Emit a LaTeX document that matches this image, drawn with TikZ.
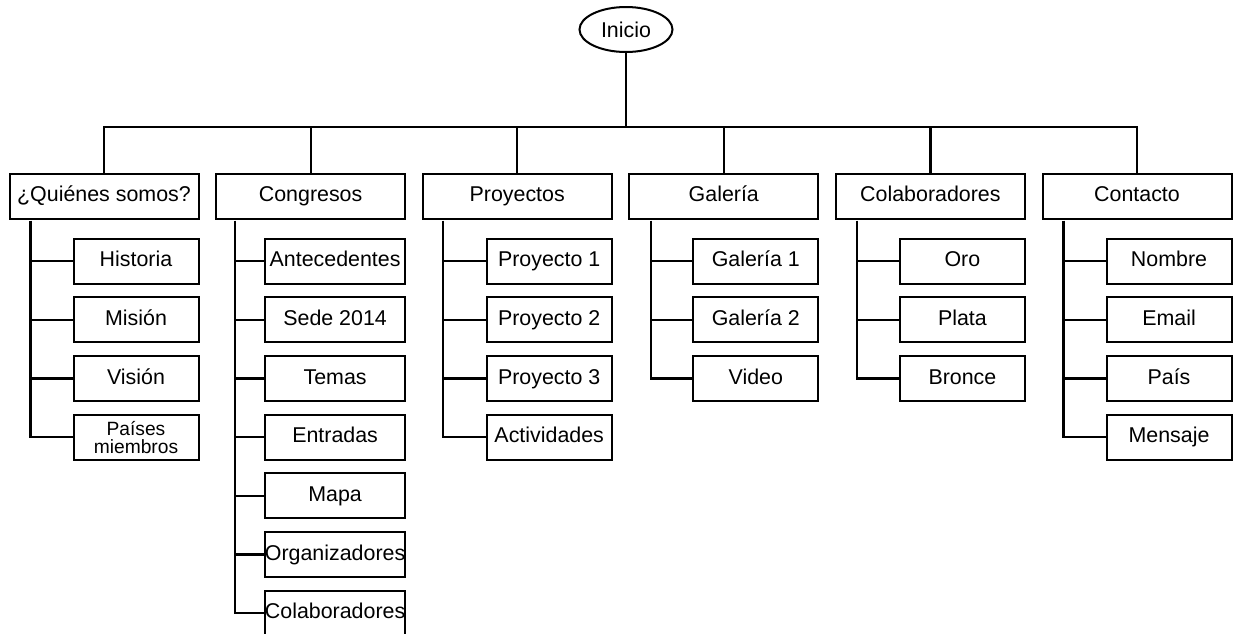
\documentclass[tikz,border=0pt]{standalone}
\usepackage{fontspec}
\setmainfont{Liberation Sans}
\usetikzlibrary{positioning,shapes.geometric}

\begin{document}
\begin{tikzpicture}[
  x=0.5pt, y=-0.5pt,
  node distance=6.85pt and 8.8pt,
  frame/.style={draw, line width=1pt, inner sep=0pt, outer sep=0pt,
                minimum width=94.5pt, minimum height=22.5pt,
                font=\fontsize{10.7}{12}\selectfont},
  sec/.style={frame, text height=7.8pt, text depth=2.2pt},
  sub/.style={sec, minimum width=62.5pt},
  subw/.style={sec, minimum width=70pt},
  root/.style={ellipse, draw, line width=1pt, inner sep=0pt, outer sep=0pt,
               minimum width=46.5pt, minimum height=22.5pt,
               font=\fontsize{10.7}{12}\selectfont},
  con/.style={line width=1.1pt}
]
\useasboundingbox (0,0) rectangle (1233,633);
\node[root] (inicio) at (626,29.5) {Inicio};
\node[sec] (quien) at (104,196) {¿Quiénes somos?};
\node[sec, right=of quien] (cong)  {Congresos};
\node[sec, right=of cong]  (proy)  {Proyectos};
\node[sec, right=of proy]  (gal)   {Galería};
\node[sec, right=of gal]   (colab) {Colaboradores};
\node[sec, right=of colab] (cont)  {Contacto};

\node[sub, below=10pt of quien.south east, anchor=north east] (hist) {Historia};
\node[sub, below=of hist]   (mision) {Misión};
\node[sub, below=of mision] (vision) {Visión};
\node[frame, minimum width=62.5pt, below=of vision, align=center,
      font=\fontsize{9.6}{9}\selectfont] (paises) {Países\\miembros};

\node[subw, below=10pt of cong.south east, anchor=north east] (antec) {Antecedentes};
\node[subw, below=of antec] (sede)  {Sede 2014};
\node[subw, below=of sede]  (temas) {Temas};
\node[subw, below=of temas] (entr)  {Entradas};
\node[subw, below=of entr]  (mapa)  {Mapa};
\node[subw, below=of mapa]  (org)   {Organizadores};
\node[subw, below=of org]   (ccol)  {Colaboradores};

\node[sub, below=10pt of proy.south east, anchor=north east] (proya) {Proyecto 1};
\node[sub, below=of proya] (proyb) {Proyecto 2};
\node[sub, below=of proyb] (proyc) {Proyecto 3};
\node[sub, below=of proyc] (activ) {Actividades};

\node[sub, below=10pt of gal.south east, anchor=north east] (gala) {Galería 1};
\node[sub, below=of gala] (galb)  {Galería 2};
\node[sub, below=of galb] (video) {Video};

\node[sub, below=10pt of colab.south east, anchor=north east] (oro) {Oro};
\node[sub, below=of oro]   (plata)  {Plata};
\node[sub, below=of plata] (bronce) {Bronce};

\node[sub, below=10pt of cont.south east, anchor=north east] (nombre) {Nombre};
\node[sub, below=of nombre] (email) {Email};
\node[sub, below=of email]  (pais)  {País};
\node[sub, below=of pais]   (msj)   {Mensaje};

\coordinate (bar) at (626,127);
\draw[con] (inicio) -- (bar);
\draw[con] (quien.north) |- (bar) -| (cont.north);
\draw[con] (cong.north) -- (cong.north |- bar);
\draw[con] (proy.north) -- (proy.north |- bar);
\draw[con] (gal.north) -- (gal.north |- bar);
\draw[con] (colab.north) -- (colab.north |- bar);

\coordinate (quienT) at ([xshift=10.5pt, yshift=-1pt]quien.south west);
\draw[con] (quienT) |- (paises.west);
\draw[con] (hist.west) -- (hist.west -| quienT);
\draw[con] (mision.west) -- (mision.west -| quienT);
\draw[con] (vision.west) -- (vision.west -| quienT);

\coordinate (congT) at ([xshift=9.5pt, yshift=-1pt]cong.south west);
\draw[con] (congT) |- (ccol.west);
\draw[con] (antec.west) -- (antec.west -| congT);
\draw[con] (sede.west) -- (sede.west -| congT);
\draw[con] (temas.west) -- (temas.west -| congT);
\draw[con] (entr.west) -- (entr.west -| congT);
\draw[con] (mapa.west) -- (mapa.west -| congT);
\draw[con] (org.west) -- (org.west -| congT);

\coordinate (proyT) at ([xshift=10pt, yshift=-1pt]proy.south west);
\draw[con] (proyT) |- (activ.west);
\draw[con] (proya.west) -- (proya.west -| proyT);
\draw[con] (proyb.west) -- (proyb.west -| proyT);
\draw[con] (proyc.west) -- (proyc.west -| proyT);

\coordinate (galT) at ([xshift=11pt, yshift=-1pt]gal.south west);
\draw[con] (galT) |- (video.west);
\draw[con] (gala.west) -- (gala.west -| galT);
\draw[con] (galb.west) -- (galb.west -| galT);

\coordinate (colabT) at ([xshift=10.5pt, yshift=-1pt]colab.south west);
\draw[con] (colabT) |- (bronce.west);
\draw[con] (oro.west) -- (oro.west -| colabT);
\draw[con] (plata.west) -- (plata.west -| colabT);

\coordinate (contT) at ([xshift=10.5pt, yshift=-1pt]cont.south west);
\draw[con] (contT) |- (msj.west);
\draw[con] (nombre.west) -- (nombre.west -| contT);
\draw[con] (email.west) -- (email.west -| contT);
\draw[con] (pais.west) -- (pais.west -| contT);
\end{tikzpicture}
\end{document}
